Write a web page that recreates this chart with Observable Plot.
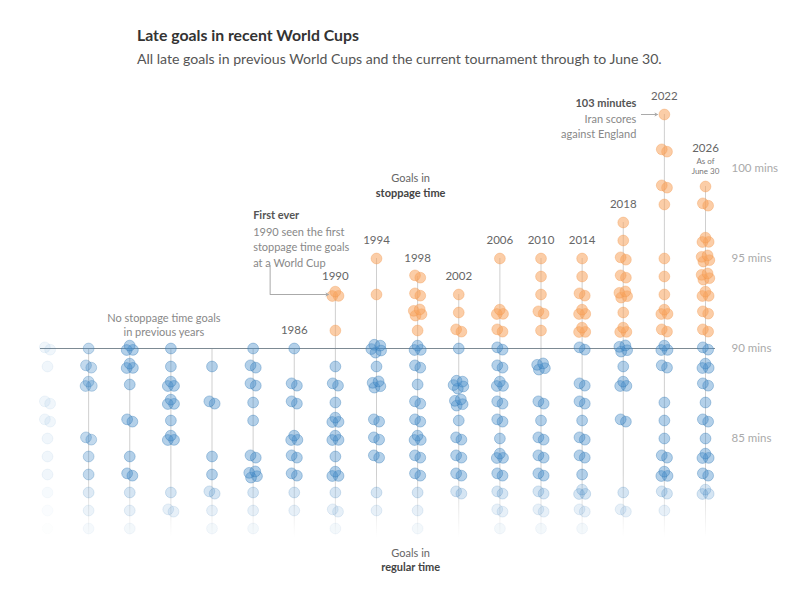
<!DOCTYPE html>
<html><head><meta charset="utf-8">
<script src="https://cdn.jsdelivr.net/npm/d3@7"></script>
<script src="https://cdn.jsdelivr.net/npm/@observablehq/plot@0.6"></script>
<style>
body{margin:0;background:#fff;font-family:Lato,sans-serif;}
#head{position:relative;height:78px;}
#title{position:absolute;left:137px;top:25px;font-size:15.8px;font-weight:700;color:#333;white-space:nowrap;}
#sub{position:absolute;left:137px;top:50px;font-size:14.1px;color:#555;white-space:nowrap;}
#chart svg{display:block;}
</style></head><body>
<div id="head"><div id="title">Late goals in recent World Cups</div><div id="sub">All late goals in previous World Cups and the current tournament through to June 30.</div></div>
<div id="chart"></div>
<script>
const years = [1962,1966,1970,1974,1978,1982,1986,1990,1994,1998,2002,2006,2010,2014,2018,2022,2026];
const regularMinutes = [90,89,88,87,86,85,84,83,82,81,80];
const regularCounts = [
  [2,1,0,2,2,1,1,1,1,1,1],
  [1,2,3,0,0,2,1,1,1,1,1],
  [3,3,1,0,2,0,1,2,1,1,1],
  [1,1,3,3,1,3,0,0,1,2,0],
  [0,1,0,2,0,0,1,1,2,1,1],
  [1,2,2,1,1,0,2,4,1,1,1],
  [1,0,2,2,0,3,2,2,1,1,0],
  [0,1,2,1,3,3,1,3,1,2,1],
  [5,1,4,0,2,2,2,0,1,1,0],
  [3,2,1,2,2,3,2,2,1,1,1],
  [1,0,5,4,1,2,2,2,2,0,0],
  [2,2,3,2,2,1,3,2,2,2,1],
  [0,4,0,2,1,2,2,2,2,2,1],
  [2,0,2,2,1,2,2,1,3,2,1],
  [4,1,3,0,2,0,0,0,1,2,0],
  [3,2,0,1,1,1,2,3,2,1,0],
  [2,3,2,1,2,1,3,2,3,0,0]
];
const stoppageMinutes = [91,92,93,94,95,96,97,98,99,100,101,102,103];
const stoppageCounts = [
  [0,0,0,0,0,0,0,0,0,0,0,0,0],
  [0,0,0,0,0,0,0,0,0,0,0,0,0],
  [0,0,0,0,0,0,0,0,0,0,0,0,0],
  [0,0,0,0,0,0,0,0,0,0,0,0,0],
  [0,0,0,0,0,0,0,0,0,0,0,0,0],
  [0,0,0,0,0,0,0,0,0,0,0,0,0],
  [0,0,0,0,0,0,0,0,0,0,0,0,0],
  [1,0,3,0,0,0,0,0,0,0,0,0,0],
  [0,0,1,0,1,0,0,0,0,0,0,0,0],
  [1,4,2,2,0,0,0,0,0,0,0,0,0],
  [2,1,1,0,0,0,0,0,0,0,0,0,0],
  [2,3,0,0,1,0,0,0,0,0,0,0,0],
  [1,2,1,1,1,0,0,0,0,0,0,0,0],
  [3,3,2,1,1,0,0,0,0,0,0,0,0],
  [3,1,4,2,2,1,1,0,0,0,0,0,0],
  [2,3,1,1,1,0,0,1,2,0,2,0,1],
  [2,2,3,4,4,3,0,2,1,0,0,0,0]
];
const labelYears = [1986,1990,1994,1998,2002,2006,2010,2014,2018,2022];
const yTicks = [85,90,95,100];
const rowFade = {82:0.55, 81:0.32, 80:0.16};
const colFade = {1962:0.2, 1966:0.8};

const PX_YEAR = 658/64, PX_MIN = 18;
function offsets(n){
  if(n===1) return [[0,0]];
  const r = n===2?3:(n===3?3.6:(n<=4?4.4:5.2));
  return d3.range(n).map(k=>{const a=k*2*Math.PI/n+0.5;return [r*Math.cos(a), r*Math.sin(a)*0.8];});
}
function build(counts, minutes){
  const out=[];
  years.forEach((yr,i)=>{
    minutes.forEach((m,j)=>{
      const n=counts[i][j]; if(!n) return;
      offsets(n).forEach(([ox,oy])=>{
        const fade=(rowFade[m]??1)*(colFade[yr]??1);
        out.push({year:yr, minute:m, x:yr+ox/PX_YEAR, y:m-oy/PX_MIN, fade});
      });
    });
  });
  return out;
}
const blueDots = build(regularCounts, regularMinutes);
const orangeDots = build(stoppageCounts, stoppageMinutes);
function topMinute(yr){
  const i=years.indexOf(yr);
  let t=90; stoppageMinutes.forEach((m,j)=>{if(stoppageCounts[i][j]>0) t=Math.max(t,m);});
  return t;
}
const ruleYears = years.filter(y=>y!==1962);

const chart = Plot.plot({
  width:800, height:535,
  marginLeft:40, marginRight:85, marginTop:0, marginBottom:0,
  x:{domain:[1962,2026], range:[47,705], axis:null},
  y:{domain:[80,103], range:[450,36], axis:null},
  opacity:{type:"identity"},
  style:{fontFamily:"Lato, sans-serif", fontSize:"11px", background:"#fff"},
  marks:[
    Plot.ruleX(ruleYears, {x:d=>d, y1:d=>topMinute(d), y2:79.4, stroke:"url(#vfade)", strokeWidth:1}),
    Plot.ruleY([90], {stroke:"#7d8a93", strokeWidth:1.2}),
    Plot.dot(blueDots, {x:"x", y:"y", r:5.4, fill:"#4a8fca", fillOpacity:d=>0.42*d.fade, stroke:"#2e76b3", strokeOpacity:d=>0.4*d.fade, strokeWidth:0.9}),
    Plot.dot(orangeDots, {x:"x", y:"y", r:5.4, fill:"#f7a45e", fillOpacity:d=>0.55*d.fade, stroke:"#f0954a", strokeOpacity:d=>0.4*d.fade, strokeWidth:0.9}),
    Plot.text(yTicks, {x:2026, y:d=>d, dx:26, text:d=>`${d} mins`, textAnchor:"start", fill:"#aaa", fontSize:11.5}),
    Plot.text(labelYears, {x:d=>d, y:d=>topMinute(d), dy:-18, text:d=>String(d), fill:"#666", fontSize:11.5}),
    Plot.text([2026], {x:d=>d, y:d=>topMinute(d), dy:-38, text:d=>String(d), fill:"#666", fontSize:11.5}),
    Plot.text([2026], {x:d=>d, y:d=>topMinute(d), dy:-21, text:()=>"As of\nJune 30", fill:"#777", fontSize:8, lineHeight:1.25}),
    Plot.text(["No stoppage time goals\nin previous years"], {x:1974, y:90, dx:-7, dy:-24, text:d=>d, fill:"#888", fontSize:11, lineHeight:1.3}),
    Plot.text(["First ever"], {x:1982, y:95, dy:-43, text:d=>d, textAnchor:"start", fill:"#555", fontWeight:"bold", fontSize:11}),
    Plot.text(["1990 seen the first\nstoppage time goals\nat a World Cup"], {x:1982, y:95, dy:-12, text:d=>d, textAnchor:"start", fill:"#888", fontSize:11, lineHeight:1.4}),
    Plot.ruleX([1982+17/PX_YEAR], {y1:90+83/PX_MIN, y2:93, stroke:"#aaa", strokeWidth:1}),
    Plot.arrow([0], {x1:1982+17/PX_YEAR, y1:93, x2:1990, y2:93, insetEnd:7, headLength:4, stroke:"#aaa", strokeWidth:1}),
    Plot.text(["103 minutes"], {x:2022, y:103, dx:-28, dy:-11, text:d=>d, textAnchor:"end", fill:"#555", fontWeight:"bold", fontSize:11}),
    Plot.text(["Iran scores\nagainst England"], {x:2022, y:103, dx:-28, dy:11, text:d=>d, textAnchor:"end", fill:"#888", fontSize:11, lineHeight:1.4}),
    Plot.arrow([0], {x1:2022-23/PX_YEAR, y1:103, x2:2022, y2:103, insetEnd:7, headLength:4, stroke:"#aaa", strokeWidth:1}),
    Plot.text(["Goals in"], {x:1998, y:95, dx:-7, dy:-80, text:d=>d, fill:"#666", fontSize:11}),
    Plot.text(["stoppage time"], {x:1998, y:95, dx:-7, dy:-65, text:d=>d, fill:"#444", fontWeight:"bold", fontSize:11}),
    Plot.text(["Goals in"], {x:1998, y:80, dx:-7, dy:25, text:d=>d, fill:"#666", fontSize:11}),
    Plot.text(["regular time"], {x:1998, y:80, dx:-7, dy:39, text:d=>d, fill:"#444", fontWeight:"bold", fontSize:11})
  ]
});
const ys = chart.scale("y");
const g = d3.select(chart).insert("defs", ":first-child").append("linearGradient")
  .attr("id","vfade").attr("gradientUnits","userSpaceOnUse")
  .attr("x1",0).attr("x2",0).attr("y1",ys.apply(83)).attr("y2",ys.apply(79.5));
g.append("stop").attr("offset","0").attr("stop-color","#cfcfcf").attr("stop-opacity",1);
g.append("stop").attr("offset","1").attr("stop-color","#cfcfcf").attr("stop-opacity",0);
document.getElementById("chart").appendChild(chart);
</script>
</body></html>
